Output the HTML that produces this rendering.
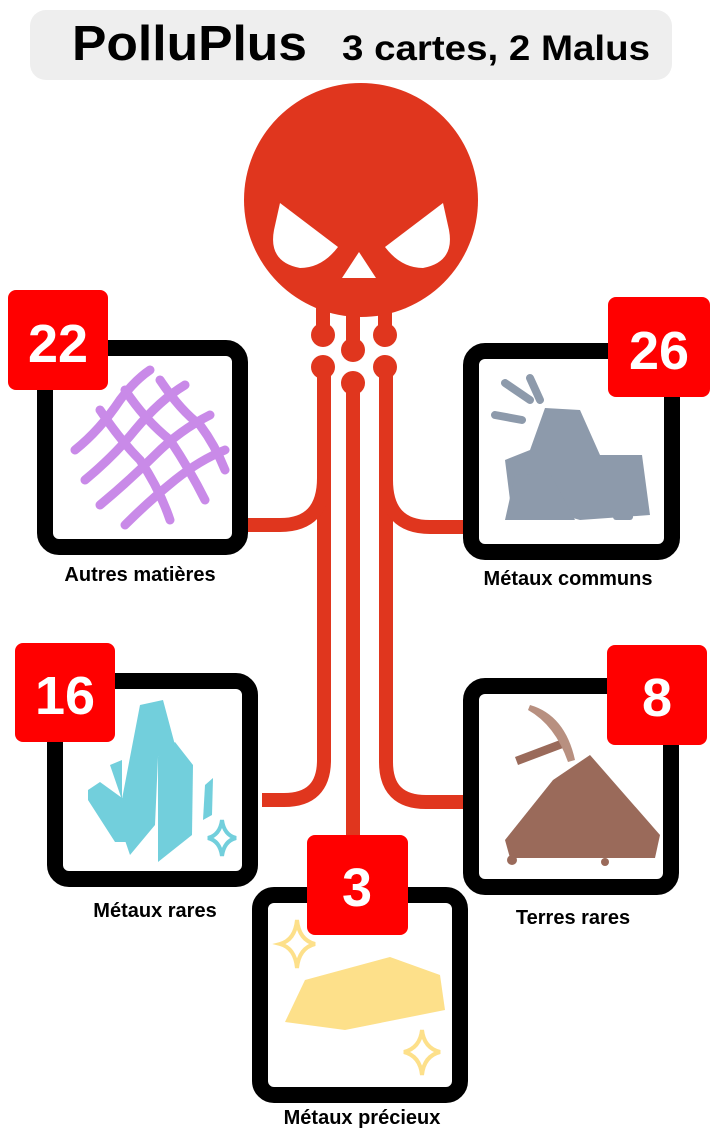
<!DOCTYPE html>
<html><head><meta charset="utf-8"><style>
html,body{margin:0;padding:0;background:#fff;}
svg{display:block;}
text{font-family:"Liberation Sans",sans-serif;font-weight:bold;}
</style></head><body>
<svg width="716" height="1131" viewBox="0 0 716 1131">
<g>
<rect x="30" y="10" width="642" height="70" rx="16" fill="#eeeeee"/>
<text x="72" y="60" font-size="49" fill="#000" textLength="235" lengthAdjust="spacingAndGlyphs">PolluPlus</text>
<text x="342" y="60" font-size="35" fill="#000" textLength="308" lengthAdjust="spacingAndGlyphs">3 cartes, 2 Malus</text>
</g>

<g fill="none" stroke="#e0361e" stroke-width="14">
<path d="M324 367 V760 Q324 800 284 800 H262"/>
<path d="M324 478 Q324 525 280 525 H248"/>
<path d="M386 367 V762 Q386 802 426 802 H465"/>
<path d="M386 480 Q386 527 430 527 H463"/>
<path d="M353 383 V840"/>
</g>

<g fill="#e0361e">
<circle cx="361" cy="200" r="117"/>
<rect x="316" y="290" width="14" height="45"/>
<rect x="346" y="290" width="14" height="60"/>
<rect x="378" y="290" width="14" height="45"/>
<circle cx="323" cy="335" r="12"/>
<circle cx="353" cy="350" r="12"/>
<circle cx="385" cy="335" r="12"/>
<circle cx="323" cy="367" r="12"/>
<circle cx="353" cy="383" r="12"/>
<circle cx="385" cy="367" r="12"/>
<path d="M280 203 L338 247 Q322 268 300 268 Q268 262 274 230 Z" fill="#fff"/>
<path d="M443 203 L385 247 Q401 268 423 268 Q455 262 449 230 Z" fill="#fff"/>
<path d="M359 252 L342 278 L376 278 Z" fill="#fff"/>
</g>

<!-- Autres matieres -->
<g>
<rect x="45" y="348" width="195" height="199" rx="14" fill="#fff" stroke="#000" stroke-width="16"/>
<g fill="none" stroke="#c98ae8" stroke-width="9" stroke-linecap="round">
<path d="M75 450 Q100 430 120 400 Q135 380 150 370"/>
<path d="M85 480 Q115 455 135 430 Q160 400 185 385"/>
<path d="M100 505 Q130 480 155 455 Q180 430 210 415"/>
<path d="M125 525 Q150 500 175 480 Q200 460 225 450"/>
<path d="M100 410 Q120 440 140 460 Q160 490 170 520"/>
<path d="M125 390 Q145 420 170 440 Q190 470 205 500"/>
<path d="M160 380 Q180 410 200 425 Q215 445 225 470"/>
</g>
<rect x="8" y="290" width="100" height="100" rx="8" fill="#ff0000"/>
<text x="58" y="362" font-size="54" fill="#fff" text-anchor="middle">22</text>
<text x="140" y="581" font-size="20" fill="#000" text-anchor="middle">Autres matières</text>
</g>

<!-- Metaux communs -->
<g>
<rect x="471" y="351" width="201" height="201" rx="14" fill="#fff" stroke="#000" stroke-width="16"/>
<g fill="#8d9aab">
<path d="M545 408 L580 410 L600 455 L642 455 L650 515 L580 520 L510 500 L505 460 L530 450 Z"/>
<path d="M515 475 L550 473 L575 520 L505 520 Z"/>
<rect x="595" y="500" width="18" height="10" rx="3"/>
<rect x="613" y="508" width="20" height="12" rx="3"/>
</g>
<g stroke="#8d9aab" stroke-width="8" stroke-linecap="round">
<path d="M505 383 L530 400"/><path d="M530 378 L540 400"/><path d="M495 415 L522 420"/>
</g>
<rect x="608" y="297" width="102" height="100" rx="8" fill="#ff0000"/>
<text x="659" y="369" font-size="54" fill="#fff" text-anchor="middle">26</text>
<text x="568" y="585" font-size="20" fill="#000" text-anchor="middle">Métaux communs</text>
</g>

<!-- Metaux rares -->
<g>
<rect x="55" y="681" width="195" height="198" rx="14" fill="#fff" stroke="#000" stroke-width="16"/>
<g fill="#72cfdc">
<path d="M140 705 L163 700 L175 745 L158 757 L155 825 L130 855 L118 820 Z"/>
<path d="M158 757 L175 742 L193 765 L192 835 L158 862 Z"/>
<path d="M88 790 L100 782 L136 808 L137 842 L115 842 L88 800 Z"/>
<path d="M110 765 L122 760 L122 800 Z"/>
<path d="M205 785 L213 778 L212 815 L203 820 Z"/>
</g>
<path d="M222 820 Q224 835 236 838 Q224 841 222 856 Q220 841 208 838 Q220 835 222 820 Z" fill="none" stroke="#72cfdc" stroke-width="4"/>
<rect x="15" y="643" width="100" height="99" rx="8" fill="#ff0000"/>
<text x="65" y="714" font-size="54" fill="#fff" text-anchor="middle">16</text>
<text x="155" y="917" font-size="20" fill="#000" text-anchor="middle">Métaux rares</text>
</g>

<!-- Terres rares -->
<g>
<rect x="471" y="686" width="200" height="201" rx="14" fill="#fff" stroke="#000" stroke-width="16"/>
<path d="M553 780 L590 755 L660 835 L655 858 L510 858 L505 840 Z" fill="#9a6a5a"/>
<path d="M515 757 L560 740 L563 748 L518 765 Z" fill="#9a6a5a"/>
<path d="M530 705 Q565 715 575 760 L568 762 Q555 725 528 710 Z" fill="#b89080"/>
<circle cx="512" cy="860" r="5" fill="#9a6a5a"/><circle cx="605" cy="862" r="4" fill="#9a6a5a"/>
<rect x="607" y="645" width="100" height="100" rx="8" fill="#ff0000"/>
<text x="657" y="716" font-size="54" fill="#fff" text-anchor="middle">8</text>
<text x="573" y="924" font-size="20" fill="#000" text-anchor="middle">Terres rares</text>
</g>

<!-- Metaux precieux -->
<g>
<rect x="260" y="895" width="200" height="200" rx="14" fill="#fff" stroke="#000" stroke-width="16"/>
<path d="M305 980 L390 957 L440 975 L445 1010 L345 1030 L285 1022 Z" fill="#fde08a"/>
<g fill="none" stroke="#fde08a" stroke-width="4">
<path d="M297 920 Q299 940 315 944 Q299 948 297 968 Q295 948 280 944 Q295 940 297 920 Z"/>
<path d="M422 1030 Q424 1048 440 1052 Q424 1056 422 1075 Q420 1056 404 1052 Q420 1048 422 1030 Z"/>
</g>
<rect x="307" y="835" width="101" height="100" rx="8" fill="#ff0000"/>
<text x="357" y="906" font-size="54" fill="#fff" text-anchor="middle">3</text>
<text x="362" y="1124" font-size="20" fill="#000" text-anchor="middle">Métaux précieux</text>
</g>
</svg>
</body></html>
